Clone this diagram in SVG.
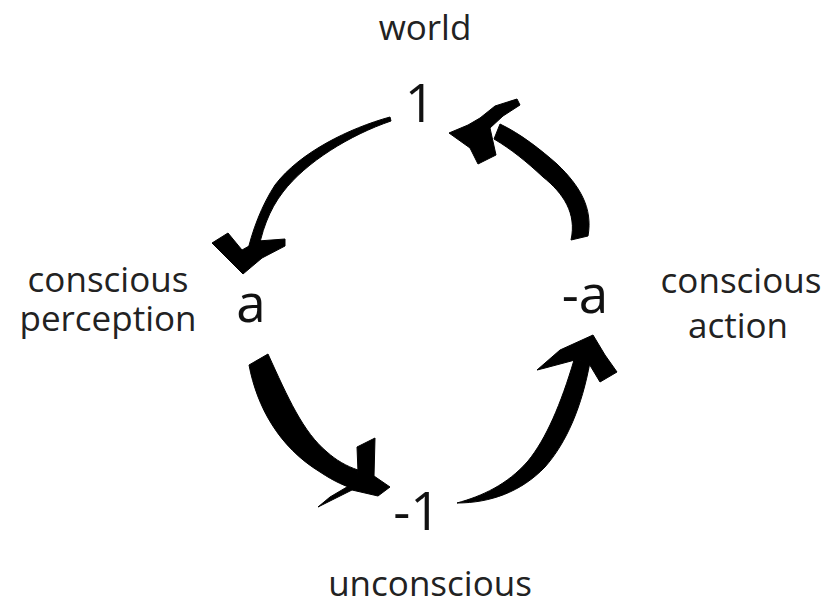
<svg xmlns="http://www.w3.org/2000/svg" width="835" height="606" viewBox="0 0 835 606">
<style>
.lbl{font-family:"Open Sans","Noto Sans",sans-serif;font-size:35px;fill:#222;text-anchor:middle}
.val{font-family:"Open Sans","Noto Sans",sans-serif;font-size:53px;fill:#111;text-anchor:middle}
.brush{fill:#000;stroke:#000;stroke-width:1;stroke-linejoin:round}
</style>
<rect width="835" height="606" fill="#fff"/>
<g id="node-world">
<text class="lbl" x="425" y="40">world</text>
<text class="val" x="420" y="122">1</text>
</g>
<g id="node-perception">
<text class="lbl" x="108" y="292">conscious</text>
<text class="lbl" x="108" y="331">perception</text>
<text class="val" x="251" y="322">a</text>
</g>
<g id="node-action">
<text class="lbl" x="741" y="293">conscious</text>
<text class="lbl" x="738" y="338">action</text>
<text class="val" x="585" y="313">-a</text>
</g>
<g id="node-unconscious">
<text class="val" x="417" y="530">-1</text>
<text class="lbl" x="430" y="596">unconscious</text>
</g>
<g id="connectors">
<path class="brush" d="M390,117 C350,128 300,152 275,185 C262,205 252,230 246,258 L257,258 C261,232 269,210 283,192 C306,162 350,135 391,121 Z"/>
<path class="brush" d="M212,243 L228,233 L242,250 L258,241 L285,239 L285,246 L262,258 L243,274 Z"/>
<path class="brush" d="M571,240 C577,213 563,193 543,177 C527,162 511,149 494,139 L500,124 C521,134 541,150 557,164 C580,186 593,208 588,236 Z"/>
<path class="brush" d="M449,133 L468,125 L480,118 L495,106 L517,99 L520,105 L503,116 L490,128 L496,155 L478,164 L470,148 Z"/>
<path class="brush" d="M249,365 C257,407 279,447 320,472 C335,482 345,486 357,490 L358,470 C346,466 336,460 327,452 C303,432 288,398 268,354 Z"/>
<path class="brush" d="M357,447 L375,438 L374,476 L390,487 L378,496 L352,490 L318,507 L330,497 L352,484 L358,472 Z"/>
<path class="brush" d="M457,503 C482,496 507,485 528,461 C546,439 561,404 574,360 L590,362 C582,406 567,442 545,467 C521,492 490,503 457,503 Z"/>
<path class="brush" d="M537,370 L560,350 L593,335 L605,355 L617,372 L600,382 L588,362 L575,360 L545,368 Z"/>
</g>
</svg>
